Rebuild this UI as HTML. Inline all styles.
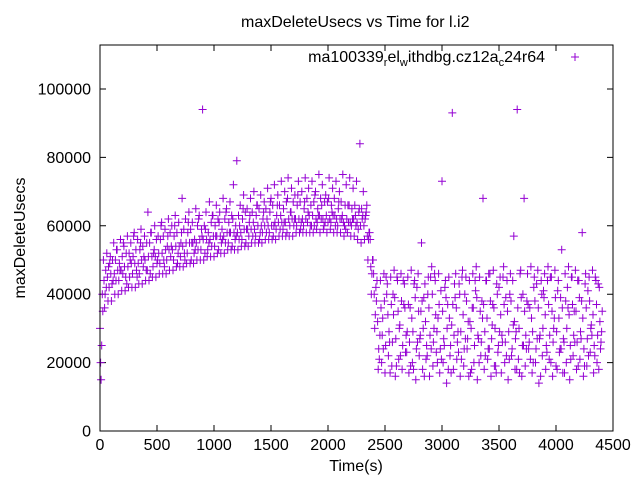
<!DOCTYPE html>
<html><head><meta charset="utf-8"><style>
body{margin:0;background:#fff}
svg{display:block;font-family:"Liberation Sans",sans-serif}
</style></head><body>
<svg id="chart" width="640" height="480" viewBox="0 0 640 480">
<rect x="0" y="0" width="640" height="480" fill="#fff"/>
<text x="241" y="27" font-size="16">maxDeleteUsecs vs Time for l.i2</text>
<text x="356" y="471" font-size="16" text-anchor="middle">Time(s)</text>
<text x="0" y="0" font-size="16" text-anchor="middle" transform="translate(25,238) rotate(-90)">maxDeleteUsecs</text>
<g id="ticks"></g>
<g id="points"></g>
<rect x="100" y="45" width="513" height="386" fill="none" stroke="#000" stroke-width="1"/>
<g>
<text x="545" y="62" font-size="16" text-anchor="end">ma100339<tspan font-size="11" dy="4">r</tspan><tspan dy="-4">el</tspan><tspan font-size="11" dy="4">w</tspan><tspan dy="-4">ithdbg.cz12a</tspan><tspan font-size="11" dy="4">c</tspan><tspan dy="-4">24r64</tspan></text>
<path d="M571,57h8M575,53v8" stroke="#9400d3" stroke-width="1"/>
</g>
</svg>
<script>
const xTicks=[0,500,1000,1500,2000,2500,3000,3500,4000,4500];
const yTicks=[0,20000,40000,60000,80000,100000];
const seriesA=[30000,50000,52000,51000,55000,53000,56000,54000,57000,55000,
58000,56000,59000,57000,64000,58000,60000,57000,61000,59000,
62000,60000,63000,61000,68000,62000,64000,61000,65000,63000,
94000,64000,67000,63000,66000,64000,68000,65000,67000,72000,
79000,66000,69000,65000,68000,70000,66000,69000,67000,71000,
68000,72000,69000,73000,70000,74000,71000,69000,73000,70000,
74000,71000,73000,70000,75000,72000,69000,74000,71000,73000,
70000,75000,72000,74000,71000,73000,84000,70000,66000,56000,
46000,44000,44000,46000,43000,45000,47000,44000,46000,43000,
45000,47000,44000,46000,55000,43000,45000,48000,44000,46000,
73000,44000,45000,93000,46000,43000,47000,45000,44000,46000,
48000,45000,68000,44000,46000,47000,43000,45000,48000,44000,
46000,57000,94000,47000,68000,46000,48000,45000,47000,44000,
46000,48000,45000,47000,44000,53000,46000,48000,45000,47000,
44000,58000,46000,45000,47000,44000,42000];
const seriesB=[20000,44000,45000,46000,46000,47000,47000,48000,48000,49000,
49000,49000,50000,50000,51000,51000,51000,52000,52000,53000,
53000,53000,54000,54000,54000,55000,55000,55000,55000,56000,
56000,56000,56000,57000,57000,57000,57000,58000,58000,58000,
58000,58000,59000,59000,59000,59000,60000,60000,60000,60000,
60000,61000,61000,61000,61000,62000,62000,62000,62000,62000,
62000,63000,63000,62000,63000,62000,63000,62000,63000,62000,
62000,61000,62000,61000,62000,61000,60000,60000,57000,48000,
40000,32000,36000,38000,34000,37000,39000,35000,38000,36000,
37000,33000,39000,35000,38000,32000,36000,40000,34000,37000,
35000,39000,33000,37000,36000,40000,34000,38000,32000,36000,
39000,35000,37000,33000,38000,36000,40000,34000,37000,35000,
38000,32000,36000,39000,35000,37000,33000,38000,36000,40000,
34000,37000,35000,39000,33000,36000,38000,34000,37000,35000,
39000,33000,36000,38000,34000,37000,32000];
const seriesC=[15000,36000,38000,38000,40000,40000,41000,41000,42000,42000,
42000,43000,43000,44000,44000,45000,45000,46000,46000,46000,
47000,47000,48000,48000,48000,49000,49000,49000,50000,50000,
50000,51000,51000,51000,52000,52000,52000,53000,53000,53000,
53000,54000,54000,54000,55000,55000,55000,55000,56000,56000,
56000,56000,57000,57000,57000,57000,57000,58000,58000,58000,
58000,58000,58000,59000,58000,59000,58000,59000,58000,58000,
58000,57000,58000,57000,57000,56000,55000,56000,50000,40000,
30000,18000,20000,17000,22000,19000,16000,21000,18000,23000,
17000,20000,15000,22000,18000,21000,16000,19000,23000,17000,
20000,14000,22000,18000,21000,16000,19000,24000,17000,20000,
15000,22000,18000,21000,16000,19000,23000,17000,20000,15000,
22000,18000,21000,16000,19000,24000,17000,20000,14000,22000,
18000,21000,16000,19000,23000,17000,20000,15000,22000,18000,
21000,16000,19000,23000,17000,20000,24000];
const seriesD=[25000,40000,48000,43000,50000,44000,51000,45000,52000,46000,
53000,46000,54000,47000,55000,48000,56000,49000,57000,50000,
58000,50000,58000,51000,59000,52000,59000,52000,60000,53000,
60000,53000,61000,54000,62000,55000,62000,55000,63000,56000,
63000,56000,64000,57000,64000,57000,65000,58000,65000,58000,
66000,59000,66000,59000,67000,60000,67000,60000,67000,60000,
68000,60000,67000,61000,68000,60000,67000,61000,68000,60000,
67000,60000,66000,60000,66000,59000,65000,62000,56000,46000,
34000,24000,28000,25000,29000,26000,27000,30000,25000,28000,
26000,29000,24000,27000,30000,25000,28000,26000,29000,24000,
27000,30000,25000,28000,26000,29000,24000,27000,30000,25000,
28000,26000,29000,24000,27000,30000,25000,28000,26000,29000,
24000,27000,30000,25000,28000,26000,29000,24000,27000,30000,
25000,28000,26000,29000,24000,27000,30000,25000,28000,26000,
29000,24000,27000,30000,25000,28000,26000];
const seriesE=[40000,47000,42000,50000,44000,49000,46000,52000,45000,51000,
47000,53000,48000,55000,46000,52000,49000,56000,50000,54000,
51000,57000,49000,55000,52000,58000,50000,56000,53000,59000,
52000,58000,54000,60000,53000,59000,55000,61000,54000,60000,
56000,62000,55000,61000,57000,63000,56000,62000,58000,64000,
57000,63000,59000,65000,58000,64000,60000,66000,59000,65000,
61000,66000,60000,65000,62000,67000,61000,66000,63000,65000,
62000,66000,61000,65000,63000,64000,62000,63000,58000,50000,
42000,21000,33000,45000,26000,40000,19000,31000,44000,23000,
36000,18000,42000,28000,39000,22000,45000,30000,20000,41000,
25000,37000,17000,43000,29000,21000,40000,32000,18000,44000,
27000,38000,22000,46000,31000,19000,42000,26000,39000,21000,
44000,29000,17000,40000,24000,36000,20000,43000,28000,41000,
23000,45000,30000,18000,39000,26000,42000,21000,35000,44000,
27000,19000,41000,31000,22000,43000,29000];
const seriesF=[35000,42000,49000,44000,53000,47000,55000,43000,50000,57000,
45000,55000,51000,47000,58000,53000,50000,60000,48000,57000,
54000,60000,52000,58000,50000,61000,55000,53000,62000,57000,
59000,55000,63000,57000,61000,56000,64000,58000,62000,57000,
60000,65000,59000,63000,61000,66000,58000,64000,62000,67000,
60000,66000,63000,61000,68000,64000,62000,69000,61000,67000,
64000,60000,69000,63000,66000,61000,68000,64000,60000,67000,
63000,59000,66000,62000,60000,65000,63000,64000,58000,50000,
38000,28000,24000,40000,17000,34000,45000,22000,37000,29000,
19000,43000,26000,35000,16000,40000,24000,46000,33000,21000,
42000,18000,31000,39000,23000,45000,27000,16000,36000,41000,
20000,33000,44000,24000,37000,17000,29000,45000,22000,40000,
31000,18000,46000,25000,38000,21000,42000,27000,16000,39000,
44000,20000,33000,41000,24000,17000,36000,45000,26000,19000,
38000,43000,22000,28000,45000,18000,35000];
const sampleStep=30;
const NS='http://www.w3.org/2000/svg';
const X0=100,X1=613,Y0=431,YTOP=45,XMAX=4500,YMAXV=100000,YMAXPX=89;
function xs(v){return X0+(v/XMAX)*(X1-X0);}
function ys(v){return Y0-(v/YMAXV)*(Y0-YMAXPX);}
const tg=document.getElementById('ticks');
xTicks.forEach(t=>{
  const x=xs(t);
  const p=document.createElementNS(NS,'path');
  p.setAttribute('d',`M${x},${Y0}v-6M${x},${YTOP}v6`);
  p.setAttribute('stroke','#000');
  
  
  tg.appendChild(p);
  const tx=document.createElementNS(NS,'text');
  tx.setAttribute('x',x);tx.setAttribute('y',Y0+19);
  tx.setAttribute('font-size','16');tx.setAttribute('text-anchor','middle');
  tx.textContent=t;
  
  
  tg.appendChild(tx);
});
yTicks.forEach(t=>{
  const y=ys(t);
  const p=document.createElementNS(NS,'path');
  p.setAttribute('d',`M${X0},${y}h6M${X1},${y}h-6`);
  p.setAttribute('stroke','#000');
  
  
  tg.appendChild(p);
  const tx=document.createElementNS(NS,'text');
  tx.setAttribute('x',X0-9);tx.setAttribute('y',y+5.5);
  tx.setAttribute('font-size','16');tx.setAttribute('text-anchor','end');
  tx.textContent=t;
  
  
  tg.appendChild(tx);
});
const pg=document.getElementById('points');
let d='';
[seriesA,seriesB,seriesC,seriesD,seriesE,seriesF].forEach((s,k)=>{
  s.forEach((v,i)=>{
    const x=xs(i*sampleStep+k*5),y=ys(v);
    d+=`M${(x-4).toFixed(1)},${y.toFixed(1)}h8M${x.toFixed(1)},${(y-4).toFixed(1)}v8`;
  });
});
const path=document.createElementNS(NS,'path');
path.setAttribute('d',d);
path.setAttribute('stroke','#9400d3');
path.setAttribute('stroke-width','1');
path.setAttribute('fill','none');


pg.appendChild(path);
</script>
</body></html>
